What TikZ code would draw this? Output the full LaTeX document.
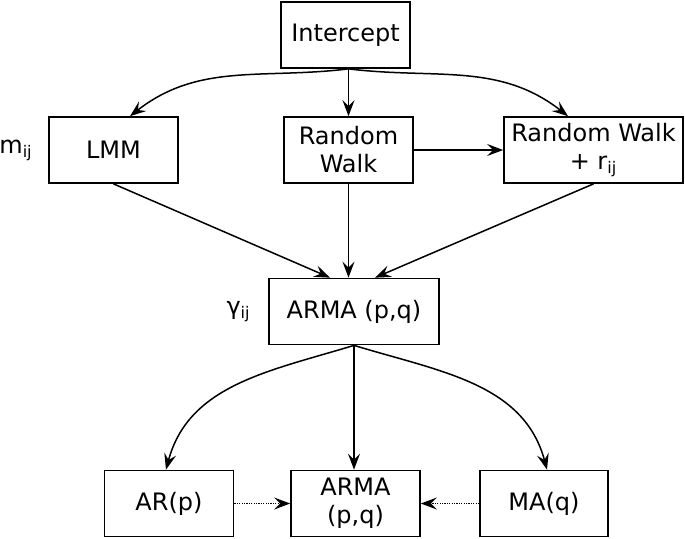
\documentclass[tikz,border=0pt]{standalone}
\usepackage{fontspec}
\setmainfont{DejaVu Sans}
\usetikzlibrary{arrows.meta}
\begin{document}
\begin{tikzpicture}[x=0.5pt,y=-0.5pt,
    box/.style={draw, line width=0.85pt, minimum width=64.5pt, minimum height=33pt,
                align=center, inner sep=0pt, font=\fontsize{12}{14}\selectfont},
    lbl/.style={inner sep=0pt, font=\fontsize{12}{14}\selectfont},
    arr/.style={line width=0.75pt, -{Stealth[length=8pt,width=6pt,inset=3pt]}}]
    \useasboundingbox (0,0) rectangle (685,538);
    \node [box] (Intercept) at (345.5,35)  {Intercept};
    \node [box] (LMM)       at (113.5,150) {LMM};
    \node [box] (RW)        at (348.5,150) {Random\\Walk};
    \node [box, minimum width=89.5pt] (RWr) at (593.5,150) {Random Walk\\+ r\textsubscript{ij}};
    \node [box, minimum width=85pt] (ARMA) at (354,311.5) {ARMA (p,q)};
    \node [box] (AR)        at (169,503.5) {AR(p)};
    \node [box] (ARMApq)    at (355.5,503.5) {ARMA\\(p,q)};
    \node [box, minimum width=64pt] (MA) at (544,503.5) {MA(q)};
    \node [lbl, anchor=west] (mij) at (-1,150) {m\textsubscript{ij}};
    \node [lbl, anchor=east] (gij) at (251,311.5) {γ\textsubscript{ij}};
    \coordinate (Split) at (RW.north |- Intercept.south);
    % intercept to the three trends
    \draw [arr] (Split) to[out=187,in=38] ([xshift=8.25pt]LMM.north);
    \draw [arr] (Split) -- (RW.north);
    \draw [arr] (Split) to[out=-7,in=142] ([xshift=-12.75pt]RWr.north);
    \draw [arr] (RW.east) -- (RWr.west);
    % trends to the error
    \draw [arr] (LMM.south) -- ([xshift=-12pt]ARMA.north);
    \draw [arr] (RW.south) -- (RW.south |- ARMA.north);
    \draw [arr] (RWr.south) -- ([xshift=10.5pt]ARMA.north);
    % error to its special cases
    \draw [arr] (ARMA.south) to[out=197,in=75] ([xshift=-1.5pt]AR.north);
    \draw [arr] (ARMA.south) -- (ARMA.south |- ARMApq.north);
    \draw [arr] (ARMA.south) to[out=-17,in=105] ([xshift=1.5pt]MA.north);
    \draw [arr, dash pattern=on 0.6pt off 0.6pt] (AR.east) -- (ARMApq.west);
    \draw [arr, dash pattern=on 0.6pt off 0.6pt] (MA.west) -- (ARMApq.east);
\end{tikzpicture}
\end{document}
